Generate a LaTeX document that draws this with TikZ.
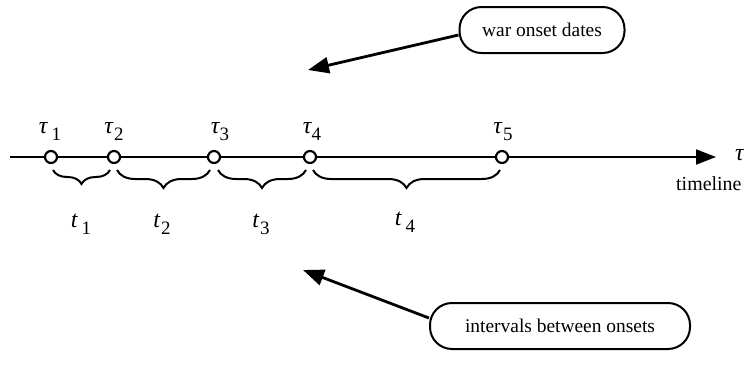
\documentclass[tikz,border=0pt]{standalone}
\usepackage{fontspec}
\setmainfont{Liberation Serif}
\usetikzlibrary{arrows.meta,decorations.pathreplacing,calc}
\newcommand\subnum[1]{\raisebox{-7bp}{\fontsize{19}{19}\selectfont\upshape #1}}
\begin{document}
\begin{tikzpicture}[x=1bp,y=-1bp,
  onset/.style={circle,draw,line width=2.2bp,fill=white,minimum size=12bp,inner sep=0pt},
  callout/.style={draw,line width=2bp,rounded corners=22bp,minimum height=46bp,
    inner sep=0pt,font=\fontsize{19.5}{22}\selectfont},
  pointer/.style={line width=2.8bp,-{Triangle[length=21bp,width=16bp]}},
  interval/.style={decorate,decoration={brace,amplitude=14bp,mirror},line width=2bp},
  lab/.style={font=\fontsize{24}{26}\selectfont\itshape,inner sep=0pt,anchor=base}]
  \useasboundingbox (0,0) rectangle (744,364);

  % timeline with onset dates
  \coordinate (start) at (10,157);
  \coordinate (end) at (716,157);
  \node[onset] (o1) at (51,157) {};
  \node[onset] (o2) at (114,157) {};
  \node[onset] (o3) at (214,157) {};
  \node[onset] (o4) at (310,157) {};
  \node[onset] (o5) at (502,157) {};
  \draw[line width=2bp] (start) -- (o1) -- (o2) -- (o3) -- (o4) -- (o5);
  \draw[line width=2bp,-{Triangle[length=20bp,width=15bp]}] (o5) -- (end);

  % onset labels
  \node[lab] (tau1) at (50,133) {τ\kern4bp\subnum{1}};
  \node[lab] (tau2) at (114,133) {τ\kern1bp\subnum{2}};
  \node[lab] (tau3) at (220,133) {τ\kern0bp\subnum{3}};
  \node[lab] (tau4) at (312,133) {τ\kern0bp\subnum{4}};
  \node[lab] (tau5) at (503,133) {τ\kern1bp\subnum{5}};
  \node[lab,anchor=west] (taulast) at (735,155) {τ};
  \node[anchor=west,inner sep=0pt,font=\fontsize{20}{22}\selectfont] (tline) at (676,184) {timeline};

  % intervals between onsets
  \draw[interval] ([xshift=2bp]o1.south |- 0,170) -- ([xshift=-4bp]o2.south |- 0,170);
  \draw[interval,decoration={amplitude=18bp}] ([xshift=3bp]o2.south |- 0,170) -- ([xshift=-4bp]o3.south |- 0,170);
  \draw[interval,decoration={amplitude=18bp}] ([xshift=4bp]o3.south |- 0,170) -- ([xshift=-4bp]o4.south |- 0,170);
  \draw[interval,decoration={amplitude=18bp}] ([xshift=3bp]o4.south |- 0,170) -- ([xshift=-2bp]o5.south |- 0,170);

  \node[lab] (t1) at (81,227) {t\kern4bp\subnum{1}};
  \node[lab] (t2) at (162,227) {t\kern1bp\subnum{2}};
  \node[lab] (t3) at (261,227) {t\kern1bp\subnum{3}};
  \node[lab] (t4) at (405,225) {t\kern4bp\subnum{4}};

  % callouts
  \node[callout,minimum width=165bp] (dates) at (542,30) {war onset dates};
  \node[callout,minimum width=260bp] (gaps) at (560,326) {intervals between onsets};
  \coordinate (datestip) at (308,70);
  \coordinate (gapstip) at (303,270);
  \draw[pointer] ([yshift=-5bp]dates.west) -- (datestip);
  \draw[pointer] ([yshift=8bp]gaps.west) -- (gapstip);
\end{tikzpicture}
\end{document}
